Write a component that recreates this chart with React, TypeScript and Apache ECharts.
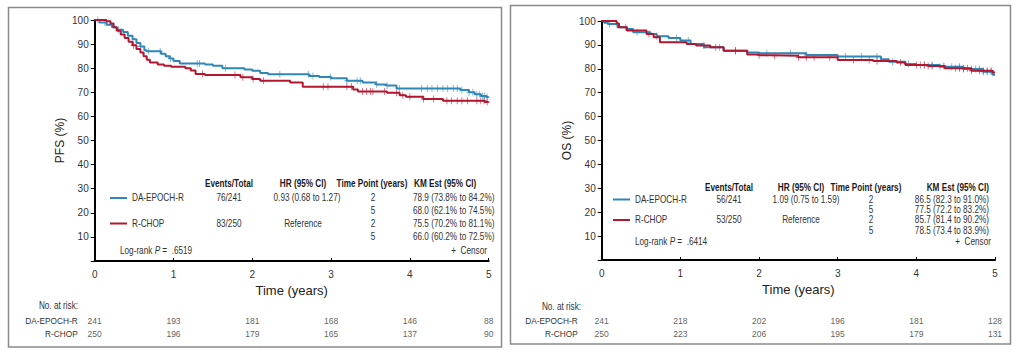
import React, { useEffect, useRef } from "react";
import * as echarts from "echarts";

// ---------- DATA ----------
const BLUE = "#2f87b8";
const RED = "#b3162f";
const FONT = "'Liberation Sans', Arial, sans-serif";
const NARROW = 0.82; // horizontal squeeze that mimics the condensed face of the original

// Kaplan-Meier steps: [time (years), survival %]
const PFS_DA: number[][] = [
  [0, 100], [0.06, 99], [0.15, 98], [0.22, 97], [0.28, 96], [0.36, 95], [0.42, 93.5], [0.48, 92],
  [0.53, 90.5], [0.58, 89], [0.63, 87.5], [0.66, 87], [0.84, 86], [0.9, 85], [0.95, 84], [1.0, 83],
  [1.08, 82], [1.4, 81.5], [1.5, 81], [1.62, 80], [1.9, 79.5], [2.0, 78.9], [2.1, 78], [2.2, 77.5],
  [2.72, 76.8], [2.85, 76.3], [3.0, 75.8], [3.2, 74.8], [3.4, 74.1], [3.57, 73.2], [3.7, 72.8],
  [3.83, 71.6], [4.64, 71], [4.75, 70], [4.82, 69.2], [4.9, 68.5], [4.97, 68], [5, 68],
];
const PFS_RC: number[][] = [
  [0, 100], [0.15, 99.5], [0.2, 98.5], [0.24, 97], [0.28, 95.5], [0.33, 94], [0.38, 92.5], [0.43, 91],
  [0.48, 89.5], [0.53, 88], [0.58, 86.5], [0.62, 85], [0.66, 83.5], [0.7, 82.4], [0.8, 81.5],
  [0.88, 81], [0.97, 80.6], [1.15, 80], [1.22, 79], [1.28, 77.6], [1.4, 77.2], [1.85, 76.2],
  [2.0, 75.5], [2.1, 74.8], [2.48, 74.1], [2.64, 72.3], [3.28, 71.2], [3.34, 70.3], [3.71, 69.8],
  [3.87, 68.8], [3.95, 68.2], [4.17, 67.2], [4.42, 66.5], [4.95, 66], [5, 66],
];
const OS_DA: number[][] = [
  [0, 100], [0.03, 99.3], [0.08, 98.7], [0.2, 97.4], [0.32, 96.7], [0.4, 95.3], [0.62, 94.6],
  [0.7, 93.6], [0.85, 92.9], [1.0, 91.8], [1.13, 90.4], [1.3, 89], [1.55, 87.6], [1.85, 86.8],
  [2.0, 86.5], [2.6, 85.8], [3.0, 85.1], [3.55, 84], [3.65, 83], [3.86, 82], [4.0, 81.6],
  [4.3, 80.9], [4.6, 79.9], [4.85, 78.8], [4.97, 77.5], [5, 77.5],
];
const OS_RC: number[][] = [
  [0, 100], [0.19, 99], [0.22, 97.4], [0.32, 96], [0.57, 94.6], [0.66, 93.2], [0.74, 91.1],
  [1.08, 90.4], [1.2, 89.7], [1.38, 89], [1.55, 87.6], [1.85, 86], [2.0, 85.7], [2.16, 85.5],
  [2.5, 84.8], [3.0, 83.7], [3.45, 83.3], [3.75, 82.6], [3.86, 81.6], [4.15, 81.2], [4.36, 80.2],
  [4.7, 79.2], [4.97, 78.4], [5, 78.4],
];

// Censor times (years)
const PFS_DA_CENSOR = [0.04, 0.13, 0.3, 0.58, 0.68, 0.83, 0.96, 1.3, 1.33, 1.66, 2.35, 2.71, 2.77, 2.99,
  3.2, 3.33, 3.37, 3.58, 3.71, 3.87, 4.15, 4.22, 4.28, 4.35, 4.42, 4.48, 4.55, 4.6, 4.66, 4.75, 4.8,
  4.85, 4.88, 4.92, 4.95, 4.98];
const PFS_RC_CENSOR = [0.49, 1.37, 1.78, 1.88, 2.01, 2.14, 2.9, 2.96, 3.2, 3.26, 3.4, 3.45, 3.5, 3.53,
  3.68, 3.83, 3.91, 4.0, 4.17, 4.3, 4.47, 4.53, 4.6, 4.66, 4.73, 4.85, 4.9, 4.94, 4.98];
const OS_DA_CENSOR = [0.1, 0.3, 0.45, 0.7, 0.95, 1.1, 1.5, 1.7, 2.1, 2.4, 2.6, 3.1, 3.3, 3.5, 3.7,
  3.9, 4.1, 4.2, 4.3, 4.45, 4.55, 4.6, 4.7, 4.75, 4.8, 4.85, 4.9, 4.95];
const OS_RC_CENSOR = [0.6, 1.3, 1.45, 1.7, 2.0, 2.2, 2.5, 2.6, 2.7, 2.9, 3.2, 3.4, 3.5, 3.8, 4.0,
  4.05, 4.1, 4.15, 4.2, 4.35, 4.5, 4.55, 4.6, 4.65, 4.7, 4.8, 4.85, 4.9, 4.95];

// Numbers at risk
const RISK_TIMES = [0, 1, 2, 3, 4, 5];
const RISK_GROUPS = ["DA-EPOCH-R", "R-CHOP"];
const PFS_RISK_DA = [241, 193, 181, 168, 146, 88];
const PFS_RISK_RC = [250, 196, 179, 165, 137, 90];
const OS_RISK_DA = [241, 218, 202, 196, 181, 128];
const OS_RISK_RC = [250, 223, 206, 195, 179, 131];

// Legend tables
const PFS_TABLE = {
  events: ["76/241", "83/250"],
  hr: ["0.93 (0.68 to 1.27)", "Reference"],
  km: ["78.9 (73.8% to 84.2%)", "68.0 (62.1% to 74.5%)", "75.5 (70.2% to 81.1%)", "66.0 (60.2% to 72.5%)"],
  p: ".6519",
};
const OS_TABLE = {
  events: ["56/241", "53/250"],
  hr: ["1.09 (0.75 to 1.59)", "Reference"],
  km: ["86.5 (82.3 to 91.0%)", "77.5 (72.2 to 83.2%)", "85.7 (81.4 to 90.2%)", "78.5 (73.4 to 83.9%)"],
  p: ".6414",
};
const TIME_POINTS = ["2", "5", "2", "5"];

// ---------- HELPERS ----------
function stepAt(curve: number[][], t: number) {
  let v = curve[0][1];
  for (const [x, y] of curve) {
    if (x <= t) v = y;
    else break;
  }
  return v;
}

const CROSS = "path://M4.3,0H5.7V4.3H10V5.7H5.7V10H4.3V5.7H0V4.3H4.3Z";

function kmSeries(curve: number[][], censor: number[], color: string, gi: number) {
  return [
    {
      type: "line",
      xAxisIndex: gi,
      yAxisIndex: gi,
      step: "end",
      data: curve,
      showSymbol: false,
      lineStyle: { color, width: 2 },
      itemStyle: { color },
      silent: true,
    },
    {
      type: "scatter",
      xAxisIndex: gi,
      yAxisIndex: gi,
      data: censor.map((t) => [t, stepAt(curve, t)]),
      symbol: CROSS,
      symbolSize: [5, 7],
      itemStyle: { color },
      silent: true,
    },
  ];
}

function riskSeries(da: number[], rc: number[], gi: number) {
  const data: any[] = [];
  RISK_TIMES.forEach((t, i) => {
    data.push([t, RISK_GROUPS[0], da[i]]);
    data.push([t, RISK_GROUPS[1], rc[i]]);
  });
  return {
    type: "scatter",
    xAxisIndex: gi,
    yAxisIndex: gi,
    data,
    symbolSize: 0,
    itemStyle: { color: "transparent" },
    silent: true,
    label: {
      show: true,
      position: "inside",
      formatter: (p: any) => String(p.value[2]),
      fontSize: 8.5,
      fontFamily: FONT,
      color: "#333",
    },
  };
}

function txt(x: number, y: number, text: string, align: string, bold = false) {
  return {
    type: "text",
    x,
    y,
    scaleX: NARROW,
    silent: true,
    style: {
      text,
      fontSize: 10,
      fontFamily: FONT,
      fontWeight: bold ? "bold" : "normal",
      fill: bold ? "#1a1a1a" : "#333",
      textAlign: align,
      textVerticalAlign: "middle",
    },
  };
}

function richP(x: number, y: number, p: string) {
  return {
    type: "text",
    x,
    y,
    scaleX: NARROW,
    silent: true,
    style: {
      text: `{a|Log-rank }{i|P}{a| =  ${p}}`,
      textVerticalAlign: "middle",
      textAlign: "left",
      rich: {
        a: { fontSize: 10, fontFamily: FONT, fill: "#333" },
        i: { fontSize: 10, fontFamily: FONT, fontStyle: "italic", fill: "#333" },
      },
    },
  };
}

type TableLayout = {
  lineX: number; labelX: number; evX: number; hrX: number; hrValX: number; tpX: number; tpHeadX: number;
  kmX: number; kmAlign: string; kmHeadX: number; censorX: number; pX: number; rows: number[];
};

function table(tb: typeof PFS_TABLE, L: TableLayout) {
  const [hY, r1, r2, r3, r4, pY] = L.rows;
  const els: any[] = [
    txt(L.evX, hY, "Events/Total", "center", true),
    txt(L.hrX, hY, "HR (95% CI)", "center", true),
    txt(L.tpHeadX, hY, "Time Point (years)", "center", true),
    txt(L.kmHeadX, hY, "KM Est (95% CI)", L.kmAlign, true),
    { type: "line", silent: true, shape: { x1: L.lineX, y1: r1, x2: L.lineX + 17, y2: r1 }, style: { stroke: BLUE, lineWidth: 2 } },
    { type: "line", silent: true, shape: { x1: L.lineX, y1: r3, x2: L.lineX + 17, y2: r3 }, style: { stroke: RED, lineWidth: 2 } },
    txt(L.labelX, r1, RISK_GROUPS[0], "left"),
    txt(L.labelX, r3, RISK_GROUPS[1], "left"),
    txt(L.evX, r1, tb.events[0], "center"),
    txt(L.evX, r3, tb.events[1], "center"),
    txt(L.hrValX, r1, tb.hr[0], "center"),
    txt(L.hrX, r3, tb.hr[1], "center"),
    richP(L.pX, pY, tb.p),
    txt(L.censorX, pY, "+  Censor", "right"),
  ];
  [r1, r2, r3, r4].forEach((y, i) => {
    els.push(txt(L.tpX, y, TIME_POINTS[i], "center"));
    els.push(txt(L.kmX, y, tb.km[i], L.kmAlign));
  });
  return els;
}

function plotAxes(gi: number, yName: string) {
  const x = {
    gridIndex: gi,
    type: "value",
    min: 0,
    max: 5,
    interval: 1,
    axisLine: { show: true, onZero: false, lineStyle: { color: "#000", width: 2 } },
    axisTick: { show: true, inside: true, length: 3, lineStyle: { color: "#000", width: 1 } },
    axisLabel: { fontSize: 10, fontFamily: FONT, color: "#333", margin: 8 },
    splitLine: { show: false },
    name: "Time (years)",
    nameLocation: "middle",
    nameGap: 22,
    nameTextStyle: { fontSize: 13, fontFamily: FONT, color: "#222" },
  };
  const y = {
    gridIndex: gi,
    type: "value",
    min: 0,
    max: 100,
    interval: 10,
    axisLine: { show: true, onZero: false, lineStyle: { color: "#000", width: 2 } },
    axisTick: { show: true, inside: false, length: 4, lineStyle: { color: "#000", width: 1 } },
    axisLabel: {
      fontSize: 10, fontFamily: FONT, color: "#333", margin: 6,
      formatter: (v: number) => (v === 0 ? "" : String(v)),
    },
    splitLine: { show: false },
    name: yName,
    nameLocation: "middle",
    nameGap: 29,
    nameTextStyle: { fontSize: 12, fontFamily: FONT, color: "#222" },
  };
  return { x, y };
}

function riskAxes(gi: number, margin: number) {
  return {
    x: { gridIndex: gi, type: "value", min: 0, max: 5, show: false },
    y: {
      gridIndex: gi,
      type: "category",
      data: RISK_GROUPS,
      inverse: true,
      axisLine: { show: false },
      axisTick: { show: false },
      axisLabel: { fontSize: 8.3, fontFamily: FONT, color: "#333", margin },
      splitLine: { show: false },
    },
  };
}

export default function App() {
  const ref = useRef<HTMLDivElement>(null);
  useEffect(() => {
    if (!ref.current) return;
    const chart = echarts.init(ref.current, undefined, { renderer: "svg" });
    const a0 = plotAxes(0, "PFS (%)");
    const a1 = plotAxes(1, "OS (%)");
    const r2 = riskAxes(2, 17);
    const r3 = riskAxes(3, 24);

    const graphics: any[] = [
      { type: "rect", silent: true, shape: { x: 8.5, y: 7.5, width: 493, height: 339.5 }, style: { fill: "none", stroke: "#8a8a8a", lineWidth: 1.5 } },
      { type: "rect", silent: true, shape: { x: 510.5, y: 5.5, width: 500, height: 338.5 }, style: { fill: "none", stroke: "#8a8a8a", lineWidth: 1.5 } },
      txt(78, 306, "No. at risk:", "right"),
      txt(581, 306.5, "No. at risk:", "right"),
      ...table(PFS_TABLE, {
        lineX: 110, labelX: 132, evX: 229, hrX: 303, hrValX: 307, tpX: 373, tpHeadX: 372,
        kmX: 413, kmAlign: "left", kmHeadX: 414, censorX: 487, pX: 120,
        rows: [184, 198, 211, 223.5, 237, 251],
      }),
      ...table(OS_TABLE, {
        lineX: 613, labelX: 635, evX: 729, hrX: 801, hrValX: 806, tpX: 871, tpHeadX: 866,
        kmX: 989, kmAlign: "right", kmHeadX: 989, censorX: 991, pX: 635,
        rows: [188, 199.5, 209.5, 220, 231, 242],
      }),
    ];

    chart.setOption({
      animation: false,
      textStyle: { fontFamily: FONT },
      grid: [
        { left: 94.7, top: 20, width: 394, height: 241 },
        { left: 601.7, top: 21, width: 393.3, height: 239 },
        { left: 94.7, top: 314, width: 394, height: 26.7 },
        { left: 601.7, top: 314, width: 393.3, height: 26.7 },
      ],
      xAxis: [a0.x, a1.x, r2.x, r3.x],
      yAxis: [a0.y, a1.y, r2.y, r3.y],
      series: [
        ...kmSeries(PFS_DA, PFS_DA_CENSOR, BLUE, 0),
        ...kmSeries(PFS_RC, PFS_RC_CENSOR, RED, 0),
        ...kmSeries(OS_DA, OS_DA_CENSOR, BLUE, 1),
        ...kmSeries(OS_RC, OS_RC_CENSOR, RED, 1),
        riskSeries(PFS_RISK_DA, PFS_RISK_RC, 2),
        riskSeries(OS_RISK_DA, OS_RISK_RC, 3),
      ],
      graphic: graphics,
    });
    return () => chart.dispose();
  }, []);
  return (
    <div
      ref={ref}
      style={{ position: "absolute", left: 0, top: 0, width: 1018, height: 352, background: "#fff" }}
    />
  );
}
